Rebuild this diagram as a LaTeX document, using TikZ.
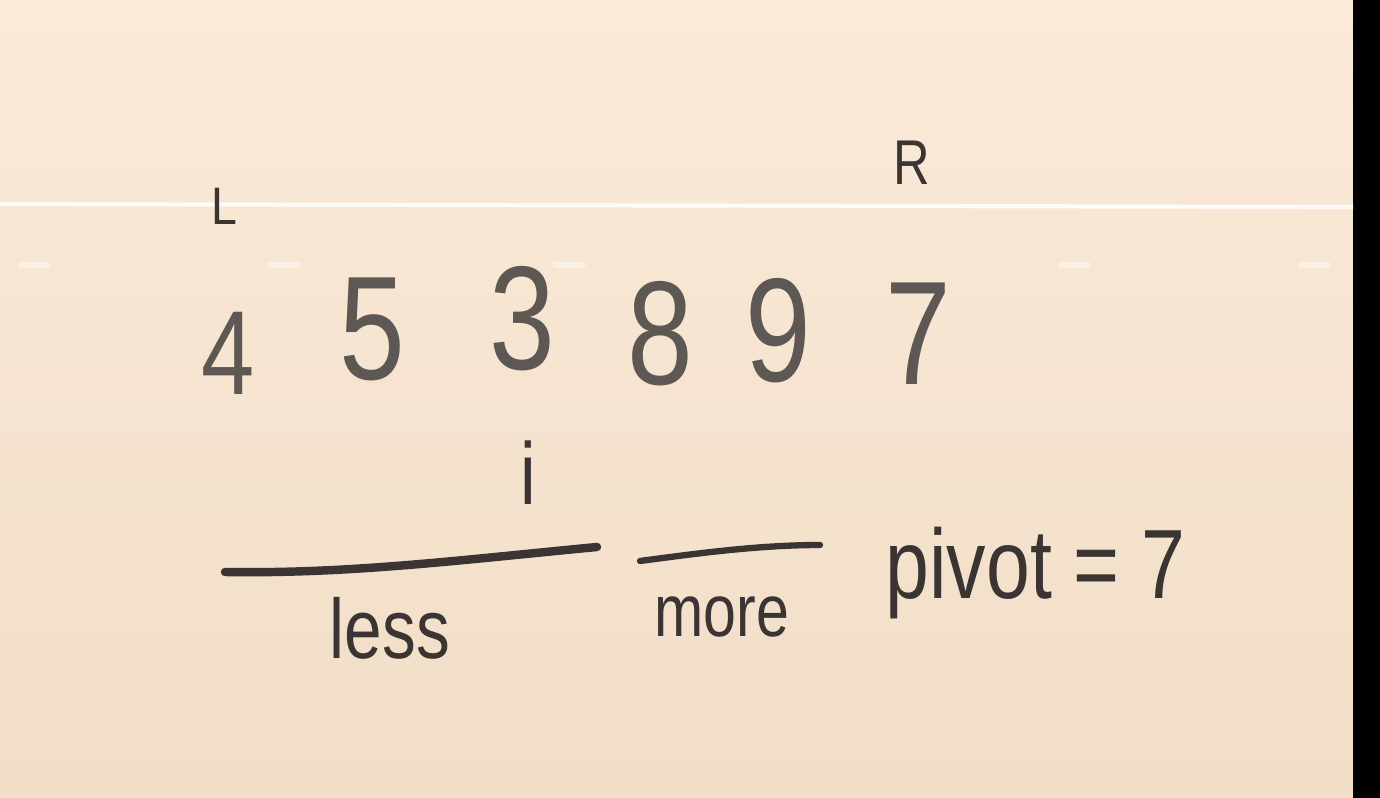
\documentclass[tikz,border=0pt]{standalone}
\usepackage{fontspec}
\setmainfont{Liberation Sans}
\usetikzlibrary{positioning}
\definecolor{boardtop}{HTML}{FAEAD8}
\definecolor{boardbot}{HTML}{F1DEC7}
\definecolor{ink}{HTML}{3A3532}
\definecolor{inkgray}{HTML}{5E5854}
\begin{document}
\begin{tikzpicture}[x=0.01cm, y=-0.01cm,
    digit/.style={anchor=base, text=inkgray, font=\fontsize{42}{42}\selectfont, inner sep=0pt, xscale=0.8},
    word/.style={anchor=base, text=ink, inner sep=0pt, xscale=0.8},
    marker/.style={draw=ink, line width=2pt, line cap=round}]
        % 白板背景
        \useasboundingbox (0,0) rectangle (1380,798);
        \shade[top color=boardtop, bottom color=boardbot] (0,0) rectangle (1353,798);
        \fill[black] (1353,0) rectangle (1380,798);

        % 白板接缝
        \draw[white, line width=1.2pt, opacity=0.85] (0,204) -- (1353,207);
        \foreach \xa in {20,270,555,1060,1300}
            \draw[white, line width=1.5pt, opacity=0.45, line cap=round] (\xa,265) -- ++(28,0);

        % 数组
        \node[digit, font=\fontsize{34}{34}\selectfont] (n4) at (228,395) {4};
        \node[digit] (n5) at (372,380) {5};
        \node[digit] (n3) at (522,370) {3};
        \node[digit] (n8) at (660,385) {8};
        \node[digit] (n9) at (778,382) {9};
        \node[digit] (n7) at (918,385) {7};

        % 指针
        \node[word, font=\fontsize{15}{15}\selectfont, xscale=1.1] (L) at (224,225) {L};
        \node[word, font=\fontsize{18}{18}\selectfont] (R) at (912,185) {R};
        \node[word, font=\fontsize{25}{25}\selectfont] (i) at (528,505) {i};

        % 分区线
        \coordinate (lessA) at (225,572);
        \coordinate (lessB) at (597,547);
        \coordinate (moreA) at (640,561);
        \coordinate (moreB) at (820,545);
        \draw[marker, line width=2.4pt] (lessA) .. controls (350,574) and (460,560) .. (lessB);
        \draw[marker, line width=1.8pt] (moreA) .. controls (700,553) and (760,545) .. (moreB);

        % 标注
        \node[word, font=\fontsize{24}{24}\selectfont] (less) at (390,658) {less};
        \node[word, font=\fontsize{21}{21}\selectfont] (more) at (722,636) {more};
        \node[word, font=\fontsize{28}{28}\selectfont, anchor=base west] (pivot) at (885,598) {pivot = 7};
    \end{tikzpicture}
\end{document}
